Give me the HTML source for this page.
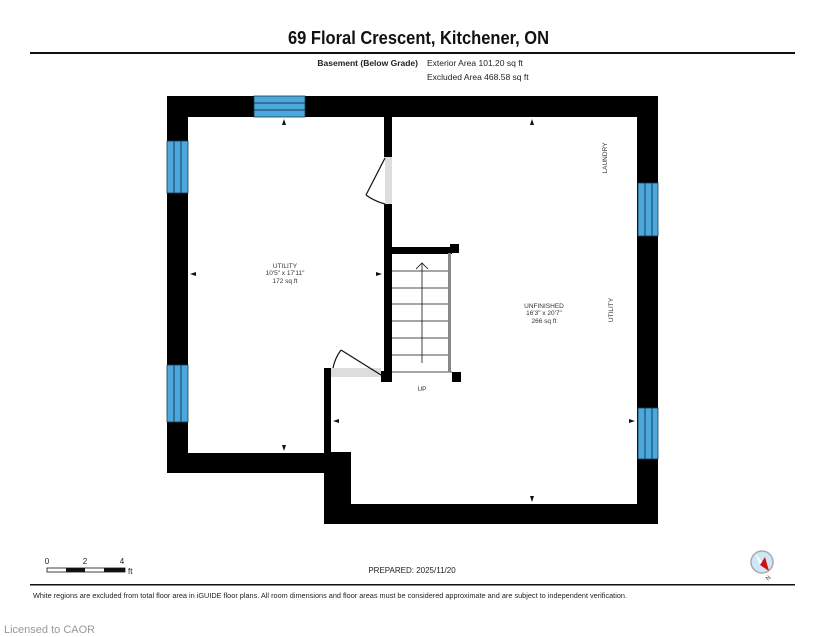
<!DOCTYPE html>
<html><head><meta charset="utf-8"><style>
html,body{margin:0;padding:0;background:#fff;}
svg{display:block;font-family:"Liberation Sans",sans-serif;}
</style></head><body>
<svg width="825" height="637" viewBox="0 0 825 637" xmlns="http://www.w3.org/2000/svg">
<rect width="825" height="637" fill="#fff"/>
<text x="288" y="44" font-size="18" font-weight="bold" fill="#111" textLength="261" lengthAdjust="spacingAndGlyphs">69 Floral Crescent, Kitchener, ON</text>
<rect x="30" y="52" width="765" height="2" fill="#111"/>
<text x="418" y="66" font-size="8.5" font-weight="bold" text-anchor="end" fill="#222">Basement (Below Grade)</text>
<text x="427" y="66" font-size="8.5" fill="#222">Exterior Area 101.20 sq ft</text>
<text x="427" y="80" font-size="8.5" fill="#222">Excluded Area 468.58 sq ft</text>

<g fill="#000">
<rect x="167" y="96" width="491" height="21"/>
<rect x="167" y="96" width="21" height="377"/>
<rect x="637" y="96" width="21" height="428"/>
<rect x="167" y="453" width="183" height="20"/>
<rect x="324" y="452" width="27" height="72"/>
<rect x="324" y="504" width="334" height="20"/>
<rect x="324" y="368" width="7" height="90"/>
<rect x="384" y="117" width="8" height="40"/>
<rect x="384" y="204" width="8" height="178"/>
<rect x="392" y="247" width="60" height="7"/>
<rect x="450" y="244" width="9" height="9"/>
<rect x="452" y="372" width="9" height="10"/>
<rect x="381" y="371" width="11" height="11"/>
</g>
<g fill="#4aa8dc" stroke="#1a3c55" stroke-width="0.8">
<rect x="254" y="96" width="51" height="21"/>
<rect x="167" y="141" width="21" height="52"/>
<rect x="167" y="365" width="21" height="57"/>
<rect x="638" y="183" width="20" height="53"/>
<rect x="638" y="408" width="20" height="51"/>
</g>
<g stroke="#1a3c55" stroke-width="1">
<line x1="254" y1="103" x2="305" y2="103"/><line x1="254" y1="110" x2="305" y2="110"/>
<line x1="174" y1="141" x2="174" y2="193"/><line x1="181" y1="141" x2="181" y2="193"/>
<line x1="174" y1="365" x2="174" y2="422"/><line x1="181" y1="365" x2="181" y2="422"/>
<line x1="645" y1="183" x2="645" y2="236"/><line x1="652" y1="183" x2="652" y2="236"/>
<line x1="645" y1="408" x2="645" y2="459"/><line x1="652" y1="408" x2="652" y2="459"/>
</g>
<rect x="385" y="157" width="7" height="47" fill="#ddd"/>
<path d="M385 158 L366 195 M366 195 Q374 201 385 204" stroke="#111" stroke-width="1.2" fill="none"/>
<rect x="331" y="368" width="50" height="9" fill="#ddd"/>
<path d="M381 375 L341 350 M341 350 Q335 358 333 368" stroke="#111" stroke-width="1.2" fill="none"/>
<g stroke="#111" stroke-width="0.8">
<line x1="392" y1="271" x2="449" y2="271"/><line x1="392" y1="288" x2="449" y2="288"/>
<line x1="392" y1="304" x2="449" y2="304"/><line x1="392" y1="321" x2="449" y2="321"/>
<line x1="392" y1="338" x2="449" y2="338"/><line x1="392" y1="355" x2="449" y2="355"/>
<line x1="392" y1="372" x2="452" y2="372"/>
<line x1="422" y1="363" x2="422" y2="263"/>
<polyline points="416,269 422,263 428,269" fill="none"/>
</g>
<rect x="448" y="253" width="3" height="119" fill="#888"/>
<g fill="#111">
<polygon points="284,119 282,125 286,125"/>
<polygon points="532,119 530,125 534,125"/>
<polygon points="190,274 196,272 196,276"/>
<polygon points="382,274 376,272 376,276"/>
<polygon points="284,451 282,445 286,445"/>
<polygon points="333,421 339,419 339,423"/>
<polygon points="635,421 629,419 629,423"/>
<polygon points="532,502 530,496 534,496"/>
</g>
<g font-size="6.5" fill="#333" text-anchor="middle">
<text x="285" y="268">UTILITY</text>
<text x="285" y="275">10'5" x 17'11"</text>
<text x="285" y="283">172 sq ft</text>
<text x="544" y="308">UNFINISHED</text>
<text x="544" y="315">16'3" x 20'7"</text>
<text x="544" y="323">266 sq ft</text>
<text x="422" y="391">UP</text>
<text transform="translate(607,158) rotate(-90)">LAUNDRY</text>
<text transform="translate(613,310) rotate(-90)">UTILITY</text>
</g>
<g font-size="8" fill="#222">
<text x="47" y="564" text-anchor="middle">0</text>
<text x="85" y="564" text-anchor="middle">2</text>
<text x="122" y="564" text-anchor="middle">4</text>
<text x="128" y="574">ft</text>
</g>
<rect x="47" y="568" width="78" height="4" fill="#fff" stroke="#111" stroke-width="0.8"/>
<rect x="66" y="568" width="19" height="4" fill="#111"/>
<rect x="104" y="568" width="21" height="4" fill="#111"/>
<text x="412" y="573" font-size="8" text-anchor="middle" fill="#222">PREPARED: 2025/11/20</text>
<circle cx="762" cy="562" r="11" fill="#cfe6f6" stroke="#aaa" stroke-width="1.5"/>
<polygon points="755,553 769,571 760,565" fill="#fff"/>
<polygon points="760,565 769,571 765,557" fill="#d01010"/>
<text x="766" y="580" font-size="6" fill="#333" transform="rotate(-45 768 578)">N</text>
<rect x="30" y="584" width="765" height="1.5" fill="#111"/>
<text x="33" y="598" font-size="7" fill="#222" textLength="594" lengthAdjust="spacingAndGlyphs">White regions are excluded from total floor area in iGUIDE floor plans. All room dimensions and floor areas must be considered approximate and are subject to independent verification.</text>
<text x="4" y="633" font-size="11" fill="#999">Licensed to CAOR</text>
</svg>
</body></html>
